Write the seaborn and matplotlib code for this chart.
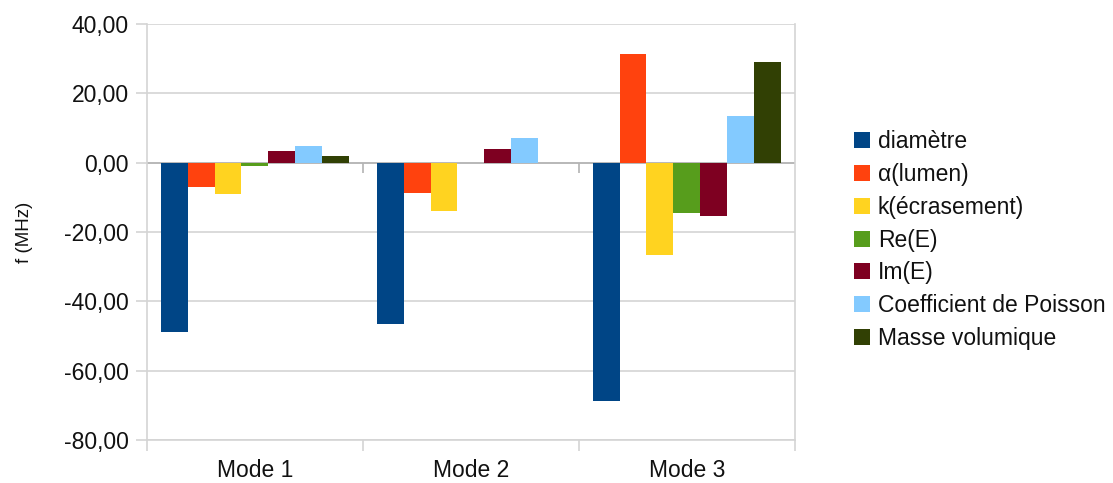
import matplotlib
matplotlib.use('Agg')
import matplotlib.pyplot as plt
import seaborn as sns
import pandas as pd
import numpy as np
from matplotlib.ticker import FuncFormatter, FixedLocator

# Données
modes = ['Mode 1', 'Mode 2', 'Mode 3']
parametres = ['diamètre', 'α(lumen)', 'k(écrasement)', 'Re(E)', 'Im(E)',
              'Coefficient de Poisson', 'Masse volumique']
diametre = [-48.8, -46.5, -68.7]
alpha_lumen = [-6.9, -8.6, 31.3]
k_ecrasement = [-9.1, -13.9, -26.5]
re_e = [-0.8, -0.2, -14.4]
im_e = [3.5, 4.1, -15.5]
coef_poisson = [4.8, 7.1, 13.4]
masse_volumique = [1.9, -0.2, 29.1]

couleurs = ['#004586', '#ff420e', '#ffd320', '#579d1c', '#7e0021', '#83caff', '#314004']

series = [diametre, alpha_lumen, k_ecrasement, re_e, im_e, coef_poisson, masse_volumique]
df = pd.DataFrame({
    'mode': np.tile(modes, len(parametres)),
    'parametre': np.repeat(parametres, len(modes)),
    'valeur': np.concatenate(series),
})

sns.set_theme(style='white')
plt.rcParams['font.family'] = ['Liberation Sans', 'DejaVu Sans']

fig = plt.figure(figsize=(11.13, 4.83), dpi=100)
ax = fig.add_axes([0.132, 0.089, 0.582, 0.861])

sns.barplot(data=df, x='mode', y='valeur', hue='parametre', hue_order=parametres,
            palette=couleurs, saturation=1, width=0.87, errorbar=None,
            edgecolor='none', ax=ax, zorder=3)

grille = '#d4d4d4'
ax.set_xlim(-0.5, 2.5)
ax.set_ylim(-80, 40)
ax.set_yticks(np.arange(-80, 41, 20))
ax.yaxis.set_major_formatter(FuncFormatter(lambda v, p: f'{v:.2f}'.replace('.', ',')))
ax.grid(axis='y', color=grille, linewidth=1.2, zorder=0)
ax.axhline(0, color='#b3b3b3', linewidth=1.2, zorder=2)
ax.vlines([0.5, 1.5], -3, 0, color='#b3b3b3', linewidth=1.2, zorder=2)

ax.spines['top'].set_visible(False)
for cote in ['left', 'right', 'bottom']:
    ax.spines[cote].set_color(grille)
    ax.spines[cote].set_linewidth(1.2)

ax.tick_params(axis='y', which='major', length=8, color=grille, width=1.2,
               labelsize=16.5, pad=5, left=True, labelcolor='#111111')
ax.tick_params(axis='x', which='major', length=0, labelsize=16.5, pad=14,
               labelcolor='#111111')
ax.xaxis.set_minor_locator(FixedLocator([-0.5, 0.5, 1.5, 2.5]))
ax.tick_params(axis='x', which='minor', length=8, color=grille, width=1.2, bottom=True)

ax.set_xlabel('')
ax.set_ylabel('f (MHz)', fontsize=13.5, labelpad=22, color='#111111')

ax.legend(loc='center left', bbox_to_anchor=(0.759, 0.503),
          bbox_transform=fig.transFigure, frameon=False, fontsize=16.5,
          handlelength=0.7, handleheight=0.7, handletextpad=0.35,
          labelspacing=0.43, borderaxespad=0)
for t in ax.get_legend().get_texts():
    t.set_color('#111111')

fig.savefig('out.png', dpi=100)
